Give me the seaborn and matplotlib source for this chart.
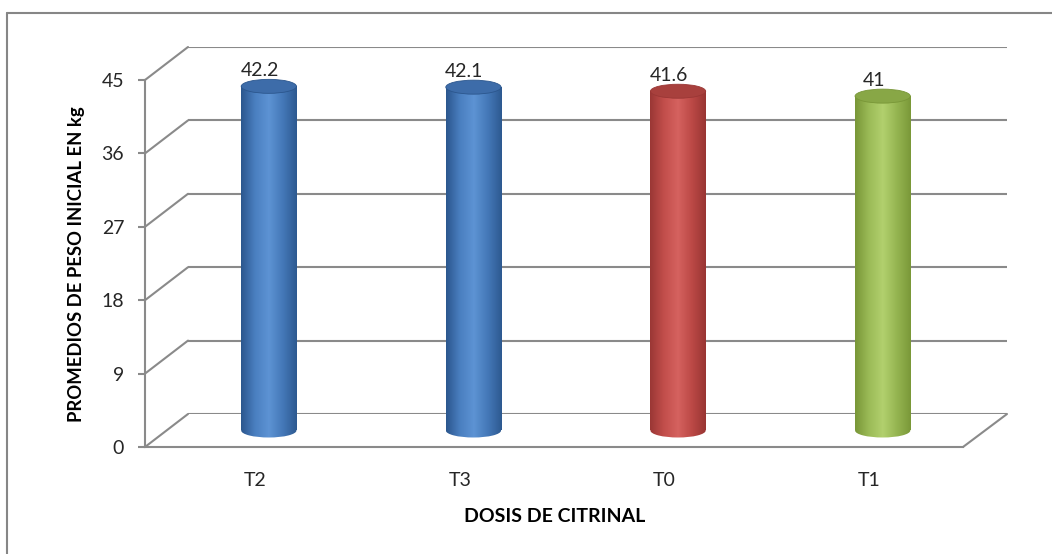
import numpy as np
import pandas as pd
import seaborn as sns
import matplotlib.pyplot as plt
from matplotlib.colors import LinearSegmentedColormap
from matplotlib.patches import Ellipse
from matplotlib.lines import Line2D
from matplotlib.transforms import ScaledTranslation

# Data:
categories = ["T2", "T3", "T0", "T1"]
values = [42.2, 42.1, 41.6, 41.0]
y_ticks = [0, 9, 18, 27, 36, 45]
bar_colors = {"T2": "#4a7ebb", "T3": "#4a7ebb", "T0": "#c0504d", "T1": "#9bbb59"}

# Cylinder shading (left edge -> highlight -> right edge) and top cap colour:
shading = {
    "#4a7ebb": (["#2b568d", "#4a7fc0", "#5d93d4", "#4478b8", "#2d5990"], "#3d6ca9"),
    "#c0504d": (["#9a3735", "#c24e4b", "#d5625f", "#bc4946", "#983533"], "#a8403d"),
    "#9bbb59": (["#789637", "#9bbb57", "#b2d06e", "#95b551", "#7a9838"], "#88a746"),
}

df = pd.DataFrame({"dosis": categories, "peso": values})

sns.set_style("white")
plt.rcParams["font.family"] = ["Lato", "DejaVu Sans"]

grid_color = "#8a8a8a"
text_color = "#262626"

W, H = 1052, 554
fig = plt.figure(figsize=(W / 100, H / 100), dpi=100)


def rect(x0, x1, y0, ytop):
    return [x0 / W, 1 - y0 / H, (x1 - x0) / W, (y0 - ytop) / H]


# Back wall, front plane and the middle plane where the cylinders stand.
# The middle plane reaches 3 units below zero so the cylinder bases fit.
px_unit = (447 - 80) / 45
ax_back = fig.add_axes(rect(188, 1007, 414, 47))
ax_front = fig.add_axes(rect(145, 963, 447, 80))
ax_mid = fig.add_axes(rect(166.5, 985, 430.5 + 3 * px_unit, 63.5))

for a in (ax_back, ax_front, ax_mid):
    a.set_xlim(-0.5, len(categories) - 0.5)
    a.set_ylim(0, 45)
    a.patch.set_alpha(0)

# Back wall gridlines
ax_back.set_yticks(y_ticks)
ax_back.yaxis.grid(True, color=grid_color, lw=1.5)
ax_back.set_xticks([])
ax_back.tick_params(left=False, labelleft=False)
ax_back.spines[["top", "bottom", "left", "right"]].set_visible(False)

# Front plane: axis line, ticks and labels
ax_front.spines[["top", "right"]].set_visible(False)
ax_front.spines[["left", "bottom"]].set_color(grid_color)
ax_front.spines[["left", "bottom"]].set_linewidth(1.5)
ax_front.set_yticks(y_ticks)
ax_front.set_xticks(range(len(categories)))
ax_front.set_xticklabels(categories)
ax_front.tick_params(axis="y", direction="out", length=5, width=1.5, color=grid_color,
                     pad=10, labelsize=14, labelcolor=text_color, left=True)
ax_front.tick_params(axis="x", length=0, pad=18, labelsize=14, labelcolor=text_color)
shift = ScaledTranslation(8 / 100, 0, fig.dpi_scale_trans)
for lbl in ax_front.get_xticklabels():
    lbl.set_transform(lbl.get_transform() + shift)

# Side wall / floor diagonals joining front and back planes
to_fig = fig.transFigure.inverted()
joins = [(-0.5, t) for t in y_ticks] + [(len(categories) - 0.5, 0)]
for pt in joins:
    p0 = to_fig.transform(ax_front.transData.transform(pt))
    p1 = to_fig.transform(ax_back.transData.transform(pt))
    fig.add_artist(Line2D([p0[0], p1[0]], [p0[1], p1[1]], color=grid_color,
                          lw=1.5, transform=fig.transFigure))

# Cylinders
sns.barplot(data=df, x="dosis", y="peso", hue="dosis", palette=bar_colors,
            width=0.27, saturation=1, legend=False, ax=ax_mid)
ax_mid.set_xlim(-0.5, len(categories) - 0.5)
ax_mid.set_ylim(-3, 45)
ax_mid.set_autoscale_on(False)
ax_mid.axis("off")

ell_h = 14 / px_unit
grad = np.linspace(0, 1, 256).reshape(1, -1)

for cat, v, patch in zip(categories, values, ax_mid.patches):
    stops, cap = shading[bar_colors[cat]]
    cmap = LinearSegmentedColormap.from_list(cat, stops)
    x0, w = patch.get_x(), patch.get_width()
    cx = x0 + w / 2
    patch.set_facecolor("none")
    patch.set_edgecolor("none")

    body = ax_mid.imshow(grad, cmap=cmap, extent=[x0, x0 + w, -ell_h, v],
                         aspect="auto", zorder=2, interpolation="bilinear")
    body.set_clip_path(patch)

    # rounded base of the cylinder
    base = Ellipse((cx, 0), w, ell_h, facecolor="none", edgecolor="none")
    ax_mid.add_patch(base)
    bottom = ax_mid.imshow(grad, cmap=cmap, extent=[x0, x0 + w, -ell_h, v],
                           aspect="auto", zorder=2, interpolation="bilinear")
    bottom.set_clip_path(base)

    ax_mid.add_patch(Ellipse((cx, v), w, ell_h, facecolor=cap,
                             edgecolor=stops[0], lw=0.6, zorder=3))

    ax_mid.annotate(f"{v:g}", (cx, v), xytext=(-9, 10), textcoords="offset pixels",
                    ha="center", va="baseline", fontsize=14, color=text_color)

# Axis titles
fig.text(77 / W, 1 - 264 / H, "PROMEDIOS DE PESO INICIAL EN kg", rotation=90,
         ha="center", va="center", fontsize=13.3, fontweight="bold", color="black")
fig.text(555 / W, 1 - 516 / H, "DOSIS DE CITRINAL", ha="center", va="center",
         fontsize=14, fontweight="bold", color="black")

# Chart frame (runs off the right and bottom edges)
fig.add_artist(Line2D([7 / W, 7 / W], [0, 1 - 13 / H], color="#868686", lw=1.5,
                      transform=fig.transFigure))
fig.add_artist(Line2D([7 / W, 1], [1 - 13 / H, 1 - 13 / H], color="#868686", lw=1.5,
                      transform=fig.transFigure))

plt.savefig("out.png", dpi=100)
